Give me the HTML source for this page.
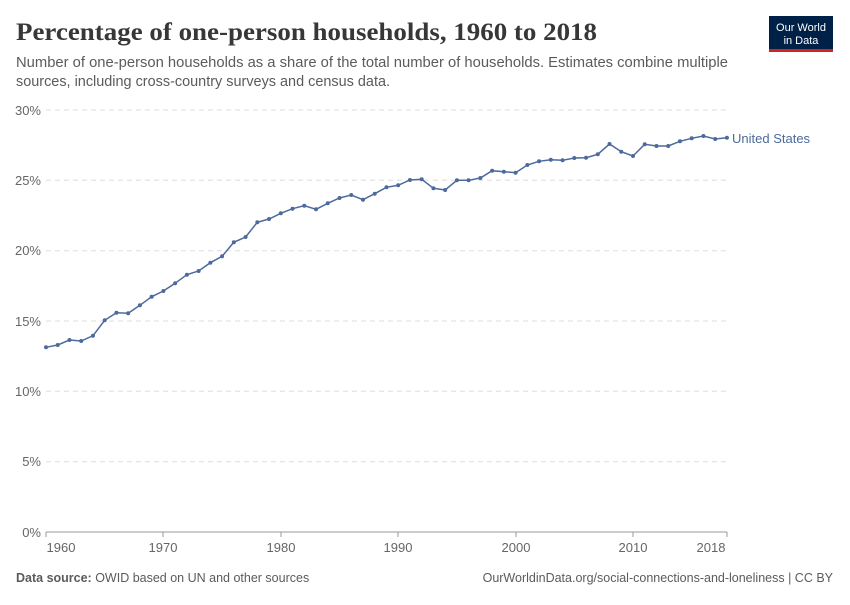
<!DOCTYPE html>
<html><head><meta charset="utf-8"><style>
body{margin:0;background:#fff;width:850px;height:600px;overflow:hidden;font-family:"Liberation Sans",sans-serif}
</style></head><body>
<svg width="850" height="600" xmlns="http://www.w3.org/2000/svg">
<text x="16" y="40" font-family="Liberation Serif,serif" font-size="25" font-weight="bold" fill="#373737" textLength="581" lengthAdjust="spacingAndGlyphs">Percentage of one-person households, 1960 to 2018</text>
<text x="16" y="67" font-size="14.5" fill="#5b5b5b" textLength="712" lengthAdjust="spacingAndGlyphs">Number of one-person households as a share of the total number of households. Estimates combine multiple</text>
<text x="16" y="86" font-size="14.5" fill="#5b5b5b" textLength="374" lengthAdjust="spacingAndGlyphs">sources, including cross-country surveys and census data.</text>
<rect x="769" y="16" width="64" height="36" fill="#002147"/>
<rect x="769" y="49" width="64" height="3" fill="#ce261e"/>
<text x="801" y="31" font-size="11" fill="#fff" text-anchor="middle">Our World</text>
<text x="801" y="44" font-size="11" fill="#fff" text-anchor="middle">in Data</text>
<g stroke="#ddd" stroke-dasharray="5,4" stroke-width="1">
<line x1="46" x2="727" y1="110" y2="110"/><line x1="46" x2="727" y1="180.3" y2="180.3"/><line x1="46" x2="727" y1="250.7" y2="250.7"/><line x1="46" x2="727" y1="321" y2="321"/><line x1="46" x2="727" y1="391.3" y2="391.3"/><line x1="46" x2="727" y1="461.7" y2="461.7"/>
</g>
<line x1="46" x2="727" y1="532" y2="532" stroke="#999"/>
<g font-size="13" fill="#666" text-anchor="end">
<text x="41" y="115">30%</text><text x="41" y="185">25%</text><text x="41" y="255">20%</text><text x="41" y="326">15%</text><text x="41" y="396">10%</text><text x="41" y="466">5%</text><text x="41" y="537">0%</text>
</g>
<g font-size="13" fill="#666" text-anchor="middle">
<text x="61" y="552">1960</text><text x="163" y="552">1970</text><text x="281" y="552">1980</text><text x="398" y="552">1990</text><text x="516" y="552">2000</text><text x="633" y="552">2010</text><text x="711" y="552">2018</text>
</g>
<g stroke="#999"><line x1="163" x2="163" y1="532" y2="537"/><line x1="281" x2="281" y1="532" y2="537"/><line x1="398" x2="398" y1="532" y2="537"/><line x1="516" x2="516" y1="532" y2="537"/><line x1="633" x2="633" y1="532" y2="537"/><line x1="727" x2="727" y1="532" y2="537"/><line x1="46" x2="46" y1="532" y2="537"/></g>
<g id="s"></g>
<text x="732" y="143" font-size="13" fill="#4c6a9c">United States</text>
<text x="16" y="582" font-size="12.5" fill="#5b5b5b"><tspan font-weight="bold">Data source:</tspan> OWID based on UN and other sources</text>
<text x="833" y="582" font-size="12.5" fill="#5b5b5b" text-anchor="end">OurWorldinData.org/social-connections-and-loneliness | CC BY</text>
</svg>
<script>
var ys=[347.3,345,340,341,335.7,320.3,312.7,313.3,305.3,296.7,291,283.3,274.7,271,262.7,256.3,242.3,237,222.3,219,213.3,208.7,205.7,209.3,203.3,198,195,199.7,193.7,187.3,185.3,180,179.3,188.3,190,180.3,180.3,178,170.7,171.7,172.7,165,161.3,159.7,160.3,158,157.7,154.3,144,151.7,156,144.3,146,146,141.3,138.3,136,139,137.7];
var g=document.getElementById('s'),ns='http://www.w3.org/2000/svg',pts=[];
ys.forEach(function(y,i){var x=46+i*11.74;pts.push(x.toFixed(1)+','+y);var c=document.createElementNS(ns,'circle');c.setAttribute('cx',x);c.setAttribute('cy',y);c.setAttribute('r',2);c.setAttribute('fill','#4c6a9c');g.appendChild(c);});
var p=document.createElementNS(ns,'polyline');p.setAttribute('points',pts.join(' '));p.setAttribute('fill','none');p.setAttribute('stroke','#4c6a9c');p.setAttribute('stroke-width','1.5');g.insertBefore(p,g.firstChild);
</script>
</body></html>
